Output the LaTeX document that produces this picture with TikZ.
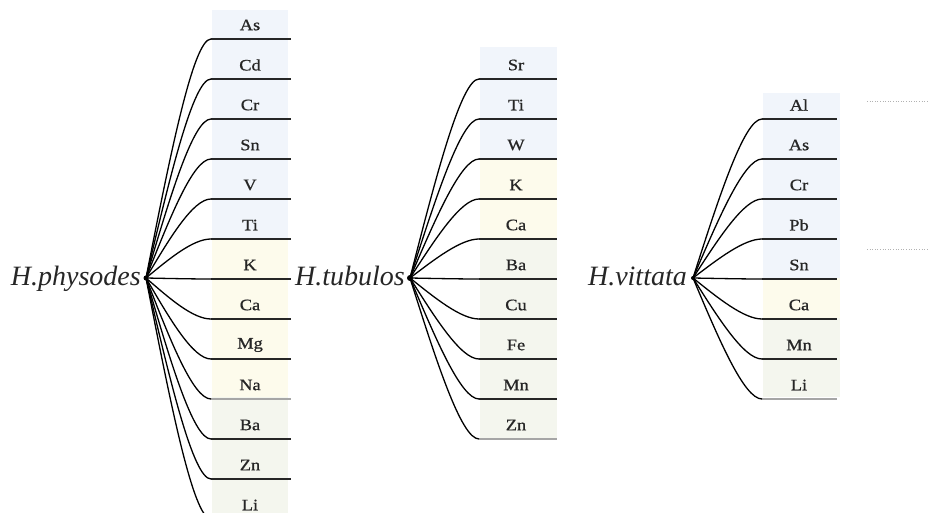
\documentclass[tikz,border=0pt]{standalone}
\usepackage{fontspec}
\setmainfont{Liberation Serif}
\newfontfamily\elemfont[FakeBold=0.7]{Liberation Serif}
\usetikzlibrary{calc}
\definecolor{bxblue}{HTML}{F1F5FB}
\definecolor{bxyel}{HTML}{FDFBEC}
\definecolor{bxgrn}{HTML}{F4F6EE}
\tikzset{
  elem/.style={inner sep=0pt, font=\elemfont\fontsize{16}{16}\selectfont, text=black!85},
  rootlbl/.style={inner sep=0pt, anchor=base east, font=\fontsize{28}{28}\selectfont\itshape, text=black!85},
  under/.style={line width=1.7pt, black!85},
  underlt/.style={line width=1.2pt, black!35},
  branch/.style={line width=1.3pt, black},
  faint/.style={line width=0.6pt, black!30, dotted},
}
\newcommand\branchto[2]{%
  \draw[branch] (#1) .. controls ($(#1)!0.5!($(#2)+(-18,0)$)$) and ($(#2)+(-18,0)$) .. (#2);}
\begin{document}
\begin{tikzpicture}[x=1pt,y=-1pt]
\useasboundingbox (0,0) rectangle (929,513);
\clip (0,0) rectangle (929,513);
% backgrounds
\fill[bxblue] (212,10) rectangle (288,239);
\fill[bxyel]  (212,239) rectangle (288,397);
\fill[bxgrn]  (212,397) rectangle (288,513);
\fill[bxblue] (480,47) rectangle (557,159);
\fill[bxyel]  (480,159) rectangle (557,239);
\fill[bxgrn]  (480,239) rectangle (557,438);
\fill[bxblue] (763,93) rectangle (840,278);
\fill[bxyel]  (763,278) rectangle (840,318);
\fill[bxgrn]  (763,318) rectangle (840,397);
% roots
\coordinate (R1) at (146,278);
\coordinate (R2) at (410,278);
\coordinate (R3) at (693,278);
\node[rootlbl] (L1) at (141,285) {H.physodes};
\node[rootlbl] (L2) at (405,285) {H.tubulos};
\node[rootlbl] (L3) at (687,285) {H.vittata};
% tree 1
\foreach \t [count=\i from 0] in {As,Cd,Cr,Sn,V,Ti,K,Ca,Mg,Na,Ba,Zn,Li}{
  \pgfmathsetmacro\yy{39+40*\i}
  \node[elem] (a\i) at (250,\yy-14) {\scalebox{1.15}[1]{\t}};
  \coordinate (as\i) at (211,\yy);
  \coordinate (ae\i) at (291,\yy);
  \ifnum\i=9 \draw[underlt] (as\i) -- (ae\i); \else \draw[under] (as\i) -- (ae\i); \fi
  \branchto{R1}{as\i}
}
% tree 2
\foreach \t [count=\i from 0] in {Sr,Ti,W,K,Ca,Ba,Cu,Fe,Mn,Zn}{
  \pgfmathsetmacro\yy{79+40*\i}
  \node[elem] (b\i) at (516,\yy-14) {\scalebox{1.15}[1]{\t}};
  \coordinate (bs\i) at (479,\yy);
  \coordinate (be\i) at (557,\yy);
  \ifnum\i=9 \draw[underlt] (bs\i) -- (be\i); \else \draw[under] (bs\i) -- (be\i); \fi
  \branchto{R2}{bs\i}
}
% tree 3
\foreach \t [count=\i from 0] in {Al,As,Cr,Pb,Sn,Ca,Mn,Li}{
  \pgfmathsetmacro\yy{119+40*\i}
  \node[elem] (c\i) at (799,\yy-14) {\scalebox{1.15}[1]{\t}};
  \coordinate (cs\i) at (762,\yy);
  \coordinate (ce\i) at (837,\yy);
  \ifnum\i=7 \draw[underlt] (cs\i) -- (ce\i); \else \draw[under] (cs\i) -- (ce\i); \fi
  \branchto{R3}{cs\i}
}
\fill (R1) circle (2.5);
\fill (R2) circle (3);
\fill (R3) circle (2);
% faint marks at right
\coordinate (d1a) at (867,101); \coordinate (d1b) at (929,101);
\coordinate (d2a) at (867,249); \coordinate (d2b) at (929,249);
\draw[faint] (d1a) -- (d1b);
\draw[faint] (d2a) -- (d2b);
\end{tikzpicture}
\end{document}
